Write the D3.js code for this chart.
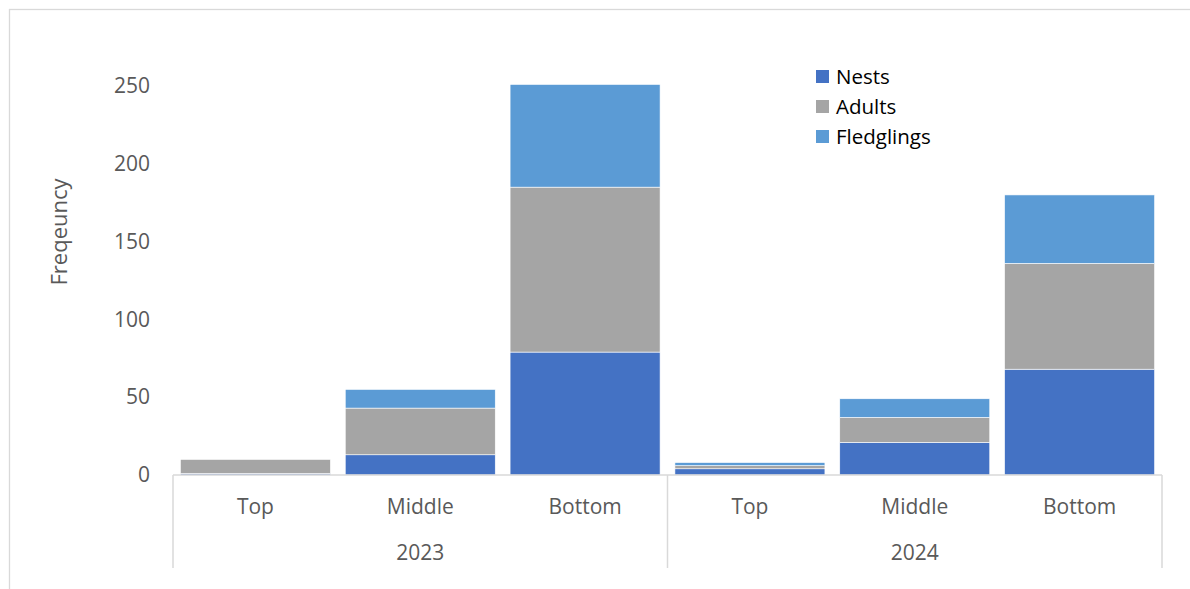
<!DOCTYPE html>
<html>
<head>
<meta charset="utf-8">
<script src="https://cdn.jsdelivr.net/npm/d3@7"></script>
<style>
  body { margin: 0; background: #fff; }
  svg { display: block; font-family: "Open Sans", sans-serif; }
</style>
</head>
<body>
<svg id="chart" width="1190" height="589"></svg>
<script>
const years = ["2023", "2024"];
const positions = ["Top", "Middle", "Bottom"];
const seriesNames = ["Nests", "Adults", "Fledglings"];
const nests = [1, 13, 79, 4, 21, 68];
const adults = [9, 30, 106, 2, 16, 68];
const fledglings = [0, 12, 66, 2, 12, 44];
const yTicks = [0, 50, 100, 150, 200, 250];

const colors = ["#4472C4", "#A5A5A5", "#5B9BD5"];

const svg = d3.select("#chart");
const width = 1190, height = 589;
const margin = { top: 86, left: 173, right: 28, bottom: 114 };

// one row per category (year + position)
const rows = [];
years.forEach((yr, i) => positions.forEach((p, j) => {
    const k = i * positions.length + j;
    rows.push({ key: yr + "-" + p, year: yr, pos: p, Nests: nests[k], Adults: adults[k], Fledglings: fledglings[k] });
}));

const x = d3.scaleBand()
    .domain(rows.map(d => d.key))
    .range([margin.left, width - margin.right])
    .paddingInner(0.09)
    .paddingOuter(0.045);

const y = d3.scaleLinear()
    .domain([0, 250])
    .range([height - margin.bottom, margin.top]);

const stack = d3.stack().keys(seriesNames)(rows);

// chart border (only left/top visible in frame)
svg.append("rect")
    .attr("x", 9.5).attr("y", 9.5)
    .attr("width", 1200).attr("height", 600)
    .attr("fill", "none")
    .attr("stroke", "#d9d9d9")
    .attr("stroke-width", 1.3);

svg.append("g")
    .selectAll("g")
    .data(stack)
    .join("g")
    .attr("fill", (d, i) => colors[i])
    .selectAll("rect")
    .data(d => d)
    .join("rect")
    .attr("x", d => x(d.data.key))
    .attr("width", x.bandwidth())
    .attr("y", d => y(d[1]))
    .attr("height", d => y(d[0]) - y(d[1]))
    .attr("stroke", "#fff")
    .attr("stroke-width", 0.6);

// y axis labels
const yAxis = svg.append("g")
    .attr("transform", `translate(${margin.left - 23},0)`)
    .call(d3.axisLeft(y).tickValues(yTicks).tickSize(0).tickPadding(0));
yAxis.select(".domain").remove();
yAxis.selectAll("text")
    .attr("font-size", 21)
    .attr("fill", "#595959")
    .attr("font-family", "Open Sans, sans-serif");

// x axis: line + two-level labels
const base = y(0);
const x0 = margin.left, x1 = width - margin.right;
svg.append("line")
    .attr("x1", x0).attr("x2", x1)
    .attr("y1", base).attr("y2", base)
    .attr("stroke", "#d9d9d9").attr("stroke-width", 1.5);

const xAxis = svg.append("g")
    .attr("transform", `translate(0,${base})`)
    .call(d3.axisBottom(x).tickSize(0).tickPadding(0).tickFormat(k => k.split("-")[1]));
xAxis.select(".domain").remove();
xAxis.selectAll("text")
    .attr("dy", 39)
    .attr("font-size", 21)
    .attr("fill", "#595959")
    .attr("font-family", "Open Sans, sans-serif");

// year group separators and labels
const groupW = (x1 - x0) / years.length;
const sepX = d3.range(years.length + 1).map(i => x0 + i * groupW);
svg.append("g")
    .selectAll("line")
    .data(sepX)
    .join("line")
    .attr("x1", d => d).attr("x2", d => d)
    .attr("y1", base).attr("y2", 568)
    .attr("stroke", "#d9d9d9").attr("stroke-width", 1.5);

svg.append("g")
    .selectAll("text")
    .data(years)
    .join("text")
    .attr("x", (d, i) => x0 + (i + 0.5) * groupW)
    .attr("y", 560)
    .attr("text-anchor", "middle")
    .attr("font-size", 21)
    .attr("fill", "#595959")
    .text(d => d);

// y axis title
svg.append("text")
    .attr("transform", "translate(67,232) rotate(-90)")
    .attr("text-anchor", "middle")
    .attr("font-size", 22)
    .attr("fill", "#595959")
    .text("Freqeuncy");

// legend
const legend = svg.append("g")
    .selectAll("g")
    .data(seriesNames)
    .join("g")
    .attr("transform", (d, i) => `translate(816,${70 + i * 30})`);
legend.append("rect")
    .attr("width", 13).attr("height", 13)
    .attr("fill", (d, i) => colors[i]);
legend.append("text")
    .attr("x", 20).attr("y", 13.5)
    .attr("font-size", 20.5)
    .attr("fill", "#000")
    .text(d => d);
</script>
</body>
</html>
